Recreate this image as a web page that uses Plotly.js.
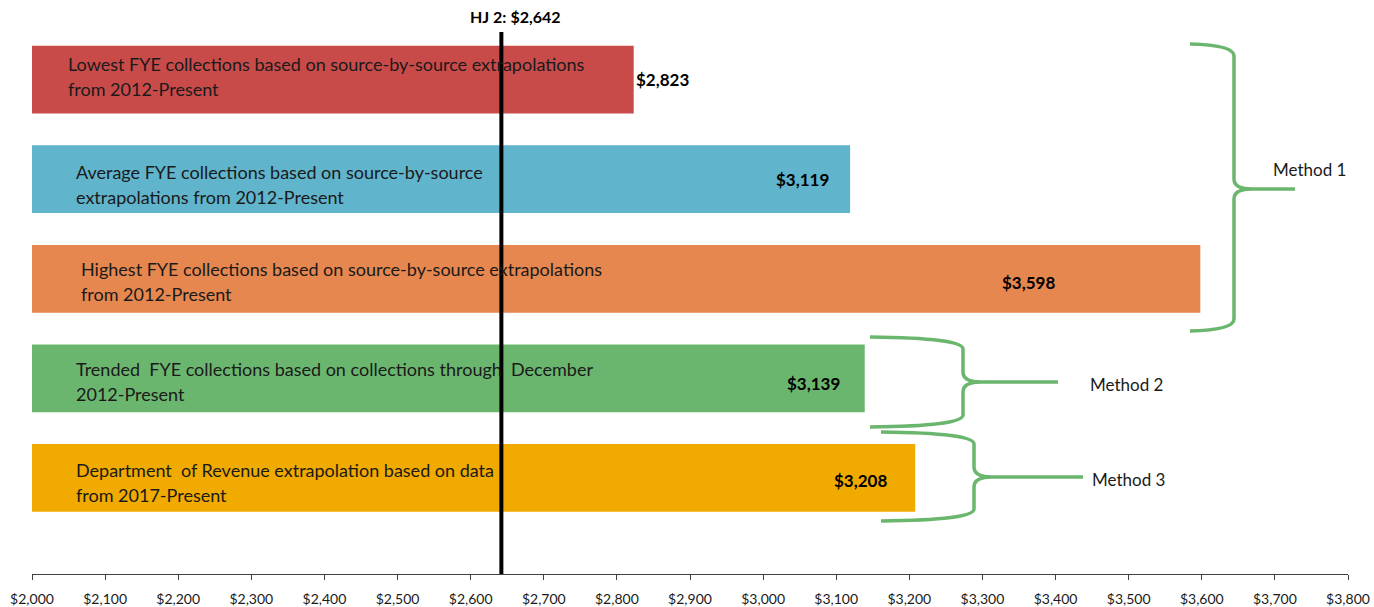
<!DOCTYPE html>
<html>
<head>
<meta charset="utf-8">
<script src="https://cdn.plot.ly/plotly-3.0.1.min.js"></script>
<style>html,body{margin:0;padding:0;background:#fff;}#chart{width:1374px;height:607px;}</style>
</head>
<body>
<div id="chart"></div>
<script>
// ---- data ----
const categories = [
  'Lowest FYE collections based on source-by-source extrapolations<br>from 2012-Present',
  'Average FYE collections based on source-by-source<br>extrapolations from 2012-Present',
  'Highest FYE collections based on source-by-source extrapolations<br>from 2012-Present',
  'Trended  FYE collections based on collections through  December<br>2012-Present',
  'Department  of Revenue extrapolation based on data<br>from 2017-Present'
];
const values = [2823, 3119, 3598, 3139, 3208];
const hjLabel = 'HJ 2';
const hjValue = 2642;
const methodLabels = ['Method 1', 'Method 2', 'Method 3'];
const tickValues = [2000, 2100, 2200, 2300, 2400, 2500, 2600, 2700, 2800, 2900, 3000, 3100, 3200, 3300, 3400, 3500, 3600, 3700, 3800];

// ---- style ----
const FONT = 'Lato, "Liberation Sans", sans-serif';
const barColors = ['#c84b4a', '#60b4cc', '#e6874f', '#6bb66e', '#f0aa00'];
const descShiftX = [34, 42, 47, 42, 42];
const descShiftY = [3, -5, -3, -3, -5];
const valShiftX = [29, -48, -172, -51, -55];
const valShiftY = [0, 0, -4, -5, -3];
const braceColor = '#6bb66e';

const W = 1374, H = 607;
const M = {l: 32, r: 26, t: 20, b: 33};
const PW = W - M.l - M.r, PH = H - M.t - M.b;
const px = x => (x - M.l) / PW;
const py = y => (H - M.b - y) / PH;

const fmt = v => '$' + v.toLocaleString('en-US');

const trace = {
  type: 'bar',
  orientation: 'h',
  x: values.map(v => v - 2000),
  base: 2000,
  y: categories,
  width: 0.68,
  marker: {color: barColors},
  hoverinfo: 'skip',
  showlegend: false
};

const annotations = [];
categories.forEach((c, i) => {
  const lines = c.split('<br>');
  lines.forEach((ln, j) => {
    annotations.push({
      x: 2000, y: c, xref: 'x', yref: 'y',
      text: ln, showarrow: false, xanchor: 'left', yanchor: 'middle',
      xshift: descShiftX[i], yshift: descShiftY[i] + (j === 0 ? 12.5 : -12.5),
      font: {family: FONT, size: 18, color: '#1a1a1a'}
    });
  });
  annotations.push({
    x: values[i], y: c, xref: 'x', yref: 'y',
    text: '<b>' + fmt(values[i]) + '</b>', showarrow: false,
    xanchor: 'center', yanchor: 'middle',
    xshift: valShiftX[i], yshift: valShiftY[i],
    font: {family: FONT, size: 17, color: '#000'}
  });
});
annotations.push({
  x: hjValue, y: py(17), xref: 'x', yref: 'paper',
  text: '<b>' + hjLabel + ': ' + fmt(hjValue) + '</b>', showarrow: false,
  xanchor: 'center', yanchor: 'middle', xshift: 14,
  font: {family: FONT, size: 16, color: '#000'}
});
const methodPos = [[1271, 170], [1088, 384], [1090, 479]];
methodLabels.forEach((m, i) => {
  annotations.push({
    x: px(methodPos[i][0]), y: py(methodPos[i][1]), xref: 'paper', yref: 'paper',
    text: m, showarrow: false, xanchor: 'left', yanchor: 'middle',
    font: {family: FONT, size: 17, color: '#1a1a1a'}
  });
});

// brace path in pixel coords -> paper
function brace(x0, yTop, yBot, xv, yMid, xTip) {
  const P = (x, y) => px(x).toFixed(5) + ',' + py(y).toFixed(5);
  return 'M' + P(x0, yTop) + ' Q' + P(xv, yTop + 1) + ' ' + P(xv, yTop + 12) +
    ' L' + P(xv, yMid - 10) + ' Q' + P(xv, yMid) + ' ' + P(xv + 18, yMid) +
    ' L' + P(xTip, yMid) +
    ' M' + P(xv + 18, yMid) + ' Q' + P(xv, yMid) + ' ' + P(xv, yMid + 10) +
    ' L' + P(xv, yBot - 12) + ' Q' + P(xv, yBot - 1) + ' ' + P(x0, yBot);
}
const shapes = [
  {type: 'line', xref: 'x', yref: 'paper', x0: hjValue, x1: hjValue, y0: 0, y1: py(32),
   line: {color: '#000', width: 4}},
  {type: 'path', xref: 'paper', yref: 'paper', path: brace(1190, 44, 331, 1234, 189, 1295),
   line: {color: braceColor, width: 3.5}},
  {type: 'path', xref: 'paper', yref: 'paper', path: brace(870, 337, 427, 963, 382, 1058),
   line: {color: braceColor, width: 3.5}},
  {type: 'path', xref: 'paper', yref: 'paper', path: brace(881, 432, 521, 974, 477, 1083),
   line: {color: braceColor, width: 3.5}}
];

const layout = {
  width: W, height: H,
  margin: M,
  paper_bgcolor: '#fff', plot_bgcolor: '#fff',
  bargap: 0.32,
  xaxis: {
    range: [2000, 3800], tickvals: tickValues, ticktext: tickValues.map(fmt),
    showgrid: false, zeroline: false, showline: true, linecolor: '#404040', linewidth: 1,
    ticks: 'outside', ticklen: 5, tickcolor: '#404040', ticklabelstandoff: 7,
    tickfont: {family: FONT, size: 14, color: '#1a1a1a'}
  },
  yaxis: {
    type: 'category', range: [4.964, -0.598], visible: false, showgrid: false, zeroline: false
  },
  annotations: annotations,
  shapes: shapes,
  showlegend: false
};

Plotly.newPlot('chart', [trace], layout, {staticPlot: true});
</script>
</body>
</html>
